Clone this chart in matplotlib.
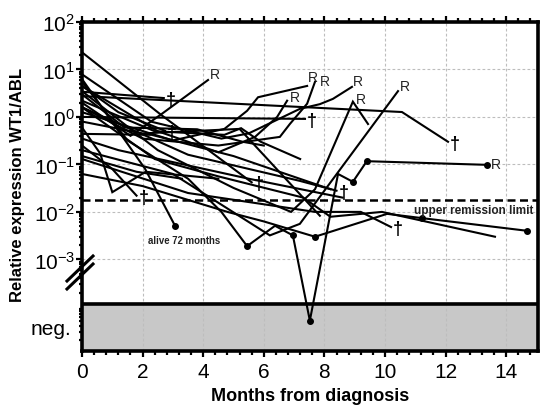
import matplotlib
matplotlib.use('Agg')
import matplotlib.pyplot as plt
from matplotlib.ticker import FixedLocator, MultipleLocator, NullFormatter

plt.rcParams['font.family'] = ['Liberation Sans', 'DejaVu Sans']
plt.rcParams['mathtext.fontset'] = 'custom'
plt.rcParams['mathtext.rm'] = 'Liberation Sans'

# ---------------- data (months from diagnosis, WT1/ABL ratio; 0 = negative) ----------------
p01_months = [0, 2.6, 5.6]
p01_expr = [23.0, 1.12, 0.042]
p02_months = [0, 10.56, 12.08]
p02_expr = [2.75, 1.27, 0.30]
p03_months = [0, 1.6, 2.6, 4.16]
p03_expr = [2.0, 0.40, 1.12, 6.0]
p04_months = [0, 1.5, 3.5, 4.6, 5.45, 6.37, 6.96, 7.52, 8.45, 8.94, 9.4, 13.37]
p04_expr = [5.6, 0.32, 0.05, 0.01, 0.0019, 0.0051, 0.0032, 0, 0.063, 0.043, 0.117, 0.098]
p05_months = [0, 2.08, 3.07]
p05_expr = [6.3, 0.081, 0.0051]
p06_months = [0, 2.5, 5.0, 6.9, 7.69, 8.94, 9.44]
p06_expr = [3.5, 0.2, 0.032, 0.010, 0.030, 2.1, 0.71]
p07_months = [0, 3.0, 6.2, 7.19, 10.43]
p07_expr = [0.2, 0.063, 0.0032, 0.0056, 3.5]
p08_months = [0, 2.0, 4.5, 6.53, 6.86, 7.43, 7.69]
p08_expr = [1.6, 0.35, 0.25, 0.38, 0.71, 1.9, 5.5]
p09_months = [0, 3.0, 4.7, 5.45, 5.81, 7.43]
p09_expr = [1.26, 0.32, 0.56, 1.35, 2.6, 4.5]
p10_months = [0, 2.5, 4.5, 5.71, 6.44, 6.77]
p10_expr = [4.5, 0.5, 0.18, 0.38, 1.0, 2.2]
p11_months = [0, 2.3, 4.6, 5.5, 7.19, 7.85, 8.28, 8.91]
p11_expr = [7.9, 0.79, 0.35, 0.45, 1.48, 1.86, 2.4, 4.3]
p12_months = [0, 7.36]
p12_expr = [1.0, 0.91]
p13_months = [0, 2.7]
p13_expr = [3.4, 2.5]
p14_months = [0, 1.2, 2.74]
p14_expr = [4.5, 1.26, 0.51]
p15_months = [0, 1.0, 1.8]
p15_expr = [0.25, 0.08, 0.022]
p16_months = [0, 0.6, 1.0, 2.1, 4.5]
p16_expr = [0.6, 0.17, 0.026, 0.07, 0.05]
p17_months = [0, 3.5, 7.19, 8.4]
p17_expr = [1.6, 0.16, 0.045, 0.028]
p18_months = [0, 3.5, 7.69, 9.2, 10.2]
p18_expr = [0.13, 0.025, 0.01, 0.01, 0.0048]
p19_months = [0, 2.4, 4.5, 7.3, 8.2, 9.9, 13.63]
p19_expr = [1.6, 0.13, 0.056, 0.02, 0.0079, 0.01, 0.003]
p20_months = [0, 2.0, 4.8, 6.0, 7.69, 10.07, 11.22, 14.69]
p20_expr = [0.063, 0.035, 0.01, 0.0063, 0.003, 0.0091, 0.0074, 0.004]
p21_months = [0, 1.8, 3.3]
p21_expr = [0.15, 0.07, 0.05]
p22_months = [0, 2.4, 4.7, 5.25, 5.9, 7.2]
p22_expr = [2.2, 0.5, 0.42, 0.58, 0.3, 0.13]
p23_months = [0, 1.2, 5.5, 8.6]
p23_expr = [0.35, 0.2, 0.05, 0.02]
p24_months = [0, 1.4, 3.8, 5.3, 6.0]
p24_expr = [3.0, 0.6, 0.55, 0.3, 0.25]
p25_months = [0, 2.0, 5.2, 7.85]
p25_expr = [0.8, 0.45, 0.56, 0.0083]
p26_months = [0, 2.3, 5.0, 8.2]
p26_expr = [0.44, 0.42, 0.15, 0.03]

patients = {
    'p01': (p01_months, p01_expr), 'p02': (p02_months, p02_expr),
    'p03': (p03_months, p03_expr), 'p04': (p04_months, p04_expr),
    'p05': (p05_months, p05_expr), 'p06': (p06_months, p06_expr),
    'p07': (p07_months, p07_expr), 'p08': (p08_months, p08_expr),
    'p09': (p09_months, p09_expr), 'p10': (p10_months, p10_expr),
    'p11': (p11_months, p11_expr), 'p12': (p12_months, p12_expr),
    'p13': (p13_months, p13_expr), 'p14': (p14_months, p14_expr),
    'p15': (p15_months, p15_expr), 'p16': (p16_months, p16_expr),
    'p17': (p17_months, p17_expr), 'p18': (p18_months, p18_expr),
    'p19': (p19_months, p19_expr), 'p20': (p20_months, p20_expr),
    'p21': (p21_months, p21_expr), 'p22': (p22_months, p22_expr),
    'p23': (p23_months, p23_expr), 'p24': (p24_months, p24_expr),
    'p25': (p25_months, p25_expr), 'p26': (p26_months, p26_expr),
}

# outcome labels: (patient, index of point, label offset in points)
relapse_labels = [('p03', -1, (5, 4)), ('p06', 5, (6, 2)), ('p07', -1, (5, 4)),
                  ('p08', -1, (7, 0.7)), ('p09', -1, (4.3, 6.5)), ('p10', -1, (5.5, 3)),
                  ('p11', -1, (4.5, 4)), ('p04', -1, (6.5, 0.5))]
death_labels = [('p01', -1), ('p02', -1), ('p12', -1), ('p13', -1), ('p14', -1),
                ('p15', -1), ('p17', -1), ('p18', -1)]
dot_points = {'p04': [4, 6, 7, 9, 10, 11], 'p05': [2], 'p20': [4, 6, 7]}

remission_limit = 0.018
tick_months = [0, 2, 4, 6, 8, 10, 12, 14]
decades = [1e-3, 1e-2, 1e-1, 1e0, 1e1, 1e2]
decade_labels = ['$\\mathregular{10^{-3}}$', '$\\mathregular{10^{-2}}$', '$\\mathregular{10^{-1}}$',
                 '$\\mathregular{10^{0}}$', '$\\mathregular{10^{1}}$', '$\\mathregular{10^{2}}$']

# ---------------- layout ----------------
NEG_LEVEL = 10 ** -4.29
BAND_TOP = 10 ** -3.94
YMIN = 10 ** -4.93

fig = plt.figure(figsize=(5.42, 4.14), dpi=100)
W, H = 542, 414
ax = fig.add_axes([82 / W, 1 - 352 / H, (538 - 82) / W, (352 - 23) / H])
ax.set_yscale('log')
ax.set_xlim(0, 15.05)
ax.set_ylim(YMIN, 100)

# negative band
ax.axhspan(YMIN, BAND_TOP, facecolor='#c8c8c8', edgecolor='none', zorder=0.5)
ax.axhline(BAND_TOP, color='black', lw=2.6, zorder=4)

# grid
for m in tick_months[1:]:
    ax.axvline(m, color='#bdbdbd', lw=0.8, ls=(0, (2.5, 2)), zorder=1)
for d in decades[:-1]:
    ax.axhline(d, color='#bdbdbd', lw=0.8, ls=(0, (2.5, 2)), zorder=1)

# remission limit
ax.axhline(remission_limit, color='black', lw=1.8, ls=(0, (3.2, 1.8)), zorder=2.5)
ax.text(14.9, remission_limit * 0.80, 'upper remission limit', ha='right', va='top',
        fontsize=8.5, fontweight='bold', color='#222222', zorder=5)

def plotval(v):
    return v if v > 0 else NEG_LEVEL

for name, (mm, vv) in patients.items():
    yy = [plotval(v) for v in vv]
    ax.plot(mm, yy, color='black', lw=1.5, zorder=3, solid_joinstyle='miter')
    for i in dot_points.get(name, []):
        ax.plot(mm[i], yy[i], 'o', color='black', ms=4, zorder=3.5)

for name, i, off in relapse_labels:
    mm, vv = patients[name]
    ax.annotate('R', xy=(mm[i], plotval(vv[i])), xytext=off, textcoords='offset points',
                ha='center', va='center', fontsize=10, color='#222222', zorder=5)
for name, i in death_labels:
    mm, vv = patients[name]
    ax.annotate('\u2020', xy=(mm[i], plotval(vv[i])), xytext=(5, -1), textcoords='offset points',
                ha='center', va='center', fontsize=13, fontweight='bold', color='black', zorder=5)

mm, vv = patients['p05']
ax.annotate('alive 72 months', xy=(mm[-1], vv[-1]), xytext=(-19.5, -10), textcoords='offset points',
            ha='left', va='center', fontsize=6.9, fontweight='bold', color='#222222', zorder=5)

# axes styling
for s in ax.spines.values():
    s.set_linewidth(2.6)
ax.set_xticks(tick_months)
ax.set_xticklabels([str(t) for t in tick_months], fontsize=15)
ax.xaxis.set_minor_locator(MultipleLocator(0.4))
ax.tick_params(axis='x', which='both', top=True, direction='out', width=1.6)
ax.tick_params(axis='x', which='major', length=4, pad=4)
ax.tick_params(axis='x', which='minor', length=3)
ax.set_yticks(decades)
ax.set_yticklabels(decade_labels, fontsize=15)
minor_y = [k * 10.0 ** e for e in range(-5, 2) for k in range(2, 10)]
ax.yaxis.set_minor_locator(FixedLocator([t for t in minor_y if YMIN < t < 100]))
ax.yaxis.set_minor_formatter(NullFormatter())
ax.tick_params(axis='y', which='both', direction='out', width=1.6)
ax.tick_params(axis='y', which='major', length=4, pad=1)
ax.tick_params(axis='y', which='minor', length=2.5)

ax.text(-0.35, 10 ** -4.46, 'neg.', ha='right', va='center', fontsize=15, transform=ax.transData)

# axis break marks on the left spine (figure pixels)
for (x0, y0, x1, y1) in [(67, 290, 93, 265), (67, 282, 93, 257)]:
    fig.add_artist(plt.Line2D([x0 / W, x1 / W], [1 - y0 / H, 1 - y1 / H], color='black', lw=2.2))

fig.text(18 / W, 1 - 185 / H, 'Relative expression WT1/ABL', rotation=90, ha='center', va='center',
         fontsize=12, fontweight='bold')
fig.text(310 / W, 1 - 397 / H, 'Months from diagnosis', ha='center', va='center',
         fontsize=13, fontweight='bold')

fig.savefig('out.png', dpi=100)
